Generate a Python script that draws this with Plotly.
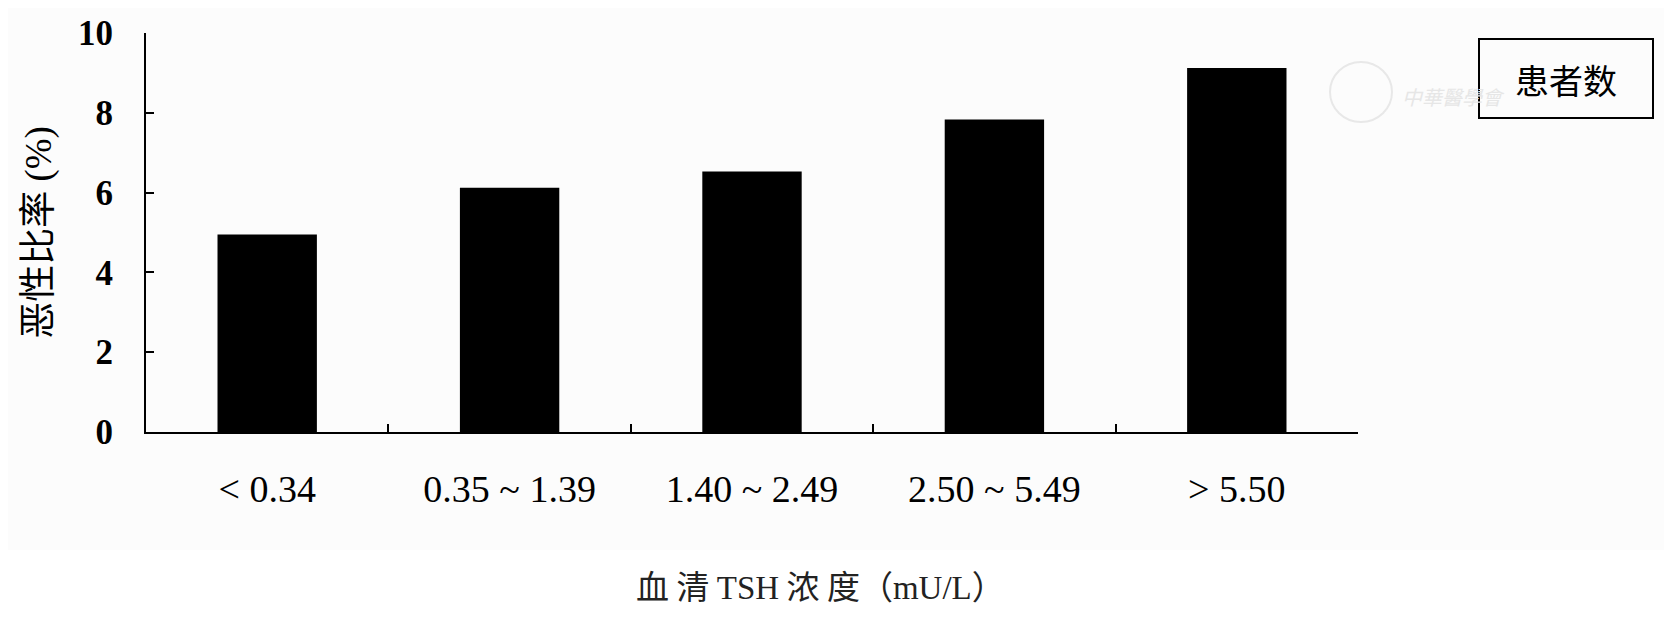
import plotly.graph_objects as go

categories = ["< 0.34", "0.35 ~ 1.39", "1.40 ~ 2.49", "2.50 ~ 5.49", "> 5.50"]
malignancy_rate = [4.95, 6.12, 6.53, 7.83, 9.12]
y_ticks = [0, 2, 4, 6, 8, 10]

# The page body has an 8px margin; the figure is sized to fit inside it.
OFF = 8
W, H = 1672 - 2 * OFF, 617 - 2 * OFF
PLOT_X0, PLOT_X1 = 146, 1358   # page pixels
PLOT_Y0, PLOT_Y1 = 33, 432
L = PLOT_X0 - OFF
T = PLOT_Y0 - OFF
R = W - (PLOT_X1 - OFF)
B = H - (PLOT_Y1 - OFF)
PW, PH = PLOT_X1 - PLOT_X0, PLOT_Y1 - PLOT_Y0

def px_x(px):
    return (px - PLOT_X0) / PW

def px_y(py):
    return (PLOT_Y1 - py) / PH

fig = go.Figure()
fig.add_trace(go.Bar(
    x=categories, y=malignancy_rate,
    marker=dict(color="black", line=dict(width=0)),
    name="患者数", showlegend=False,
))

serif = "Liberation Serif, Times New Roman, serif"
cjk = "Noto Sans CJK SC, sans-serif"

x_title = ("血 清 <span style='font-family:Liberation Serif'>TSH</span> 浓 度"
           "（<span style='font-family:Liberation Serif'>mU/L</span>）")

fig.update_layout(
    width=W, height=H,
    margin=dict(l=L, r=R, t=T, b=B, autoexpand=False),
    paper_bgcolor="#fcfcfc", plot_bgcolor="#fcfcfc",
    bargap=0.59,
    xaxis=dict(
        type="category",
        showline=True, linecolor="black", linewidth=2,
        ticks="inside", ticklen=8, tickwidth=2, tickcolor="black",
        tickson="boundaries",
        tickfont=dict(family=serif, size=38, color="black"),
        ticklabelstandoff=22,
        showgrid=False, zeroline=False,
    ),
    yaxis=dict(
        range=[0, 10], tickvals=y_ticks,
        showline=True, linecolor="black", linewidth=2,
        ticks="inside", ticklen=8, tickwidth=2, tickcolor="black",
        tickfont=dict(family=serif, size=35, color="black", weight="bold"),
        ticklabelstandoff=24,
        showgrid=False, zeroline=False,
        title=dict(
            text="<span style='font-family:Noto Sans CJK SC'>恶性比率</span> (%)",
            font=dict(family=serif, size=37, color="black"),
            standoff=18,
        ),
    ),
    shapes=[
        dict(type="rect", xref="paper", yref="paper",
             x0=px_x(0), x1=px_x(1672), y0=px_y(617), y1=px_y(550),
             fillcolor="white", line=dict(width=0), layer="below"),
        dict(type="circle", xref="paper", yref="paper",
             x0=px_x(1330), x1=px_x(1392), y0=px_y(122), y1=px_y(62),
             line=dict(color="#e8e8e8", width=2), layer="below"),
        dict(type="rect", xref="paper", yref="paper",
             x0=px_x(1479), x1=px_x(1653), y0=px_y(118), y1=px_y(39),
             line=dict(color="black", width=2), fillcolor="rgba(0,0,0,0)"),
    ],
    annotations=[
        dict(text=x_title, xref="paper", yref="paper",
             x=px_x(820), y=px_y(585), xanchor="center", yanchor="middle",
             showarrow=False,
             font=dict(family=cjk, size=33, color="#222")),
        dict(text="<i>中華醫學會</i>", xref="paper", yref="paper",
             x=px_x(1400), y=px_y(96), xanchor="left", yanchor="middle",
             showarrow=False,
             font=dict(family=cjk, size=20, color="#e6e6e6")),
        dict(text="患者数", xref="paper", yref="paper",
             x=px_x(1566), y=px_y(79), xanchor="center", yanchor="middle",
             showarrow=False,
             font=dict(family=cjk, size=34, color="black")),
    ],
)

fig.write_html("out.html")
